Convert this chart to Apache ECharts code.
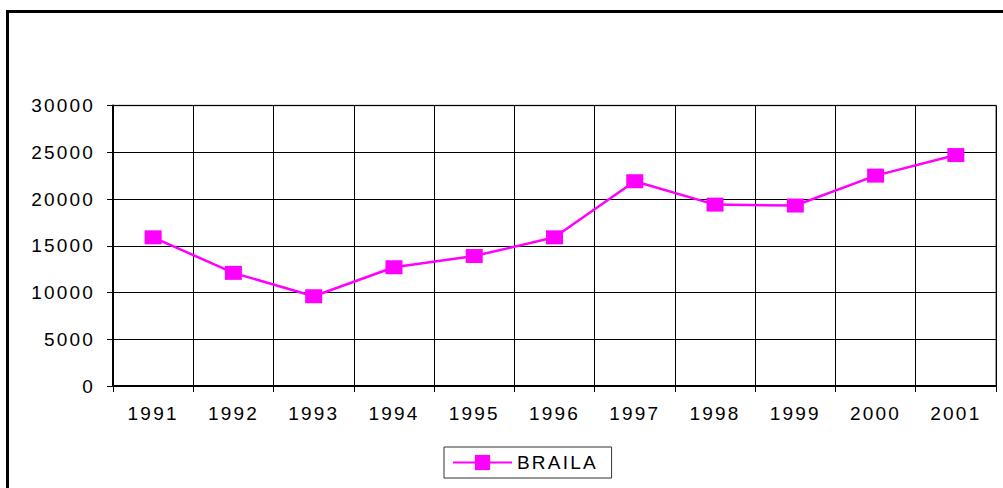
<!DOCTYPE html>
<html>
<head>
<meta charset="utf-8">
<script src="https://cdn.jsdelivr.net/npm/echarts@6/dist/echarts.min.js"></script>
<style>
  html, body { margin: 0; padding: 0; background: #fff; }
  #chart { width: 1003px; height: 488px; }
  #chart text { letter-spacing: 2.2px; }
</style>
</head>
<body>
<div id="chart"></div>
<script>
const categories = ['1991', '1992', '1993', '1994', '1995', '1996', '1997', '1998', '1999', '2000', '2001'];
const seriesName = 'BRAILA';
const values = [15900, 12100, 9600, 12700, 13900, 15900, 21900, 19400, 19300, 22500, 24700];
const yMin = 0, yMax = 30000, yInterval = 5000;

const font = '"Liberation Sans", Arial, sans-serif';
const chart = echarts.init(document.getElementById('chart'), null, { renderer: 'svg' });
chart.setOption({
  animation: false,
  backgroundColor: '#fff',
  graphic: [{
    type: 'rect',
    shape: { x: 7.5, y: 11.5, width: 1100, height: 600 },
    style: { fill: 'none', stroke: '#000', lineWidth: 3 },
    silent: true
  }],
  grid: {
    left: 113, right: 7, top: 105.5, bottom: 102,
    show: true, borderColor: '#808080', borderWidth: 1.5, backgroundColor: 'transparent'
  },
  legend: {
    left: 444, top: 447,
    padding: [6, 27, 6, 8],
    borderColor: '#333', borderWidth: 1,
    itemWidth: 59, itemHeight: 19, itemGap: 10,
    textStyle: { fontFamily: font, fontSize: 19, color: '#000', padding: [0, 0, 0, 0] },
    data: [seriesName]
  },
  xAxis: {
    type: 'category',
    data: categories,
    boundaryGap: true,
    axisLine: { lineStyle: { color: '#000', width: 2 } },
    axisTick: { show: true, length: 6, alignWithLabel: false, lineStyle: { color: '#000', width: 1 } },
    axisLabel: { fontFamily: font, fontSize: 19, color: '#000', margin: 18, interval: 0 },
    splitLine: { show: true, lineStyle: { color: '#000', width: 1 } }
  },
  yAxis: {
    type: 'value',
    min: yMin, max: yMax, interval: yInterval,
    axisLine: { show: true, lineStyle: { color: '#000', width: 2 } },
    axisTick: { show: true, length: 6, lineStyle: { color: '#000', width: 1 } },
    axisLabel: { fontFamily: font, fontSize: 19, color: '#000', margin: 18, formatter: v => String(v) },
    splitLine: { show: true, lineStyle: { color: '#000', width: 1 } }
  },
  series: [{
    name: seriesName,
    type: 'line',
    data: values,
    symbol: 'rect',
    symbolSize: [17, 14],
    itemStyle: { color: '#FF00FF' },
    lineStyle: { color: '#FF00FF', width: 2.5 }
  }]
});
</script>
</body>
</html>
